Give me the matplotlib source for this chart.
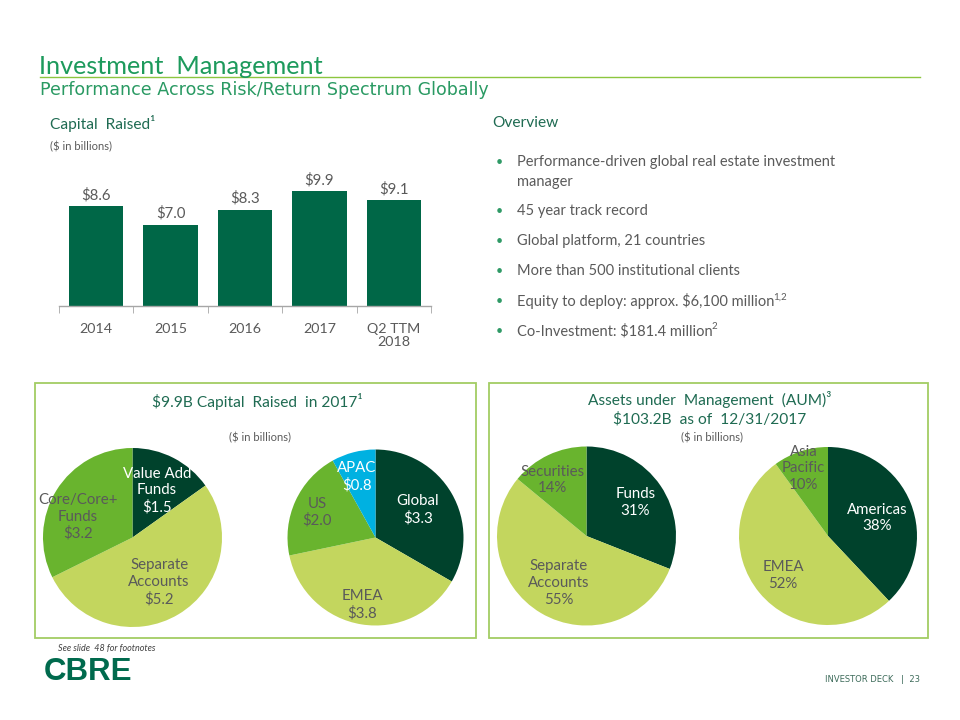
import numpy as np
import matplotlib
matplotlib.use("Agg")
import matplotlib.pyplot as plt
from matplotlib.patches import Rectangle
from matplotlib.lines import Line2D

plt.rcParams['font.family'] = ['Lato', 'DejaVu Sans']

# ---------------- data ----------------
bar_categories = ["2014", "2015", "2016", "2017", "Q2 TTM\n2018"]
bar_values = [8.6, 7.0, 8.3, 9.9, 9.1]

pie1_labels = ["Value Add\nFunds", "Separate\nAccounts", "Core/Core+\nFunds"]
pie1_values = [1.5, 5.2, 3.2]
pie2_labels = ["Global", "EMEA", "US", "APAC"]
pie2_values = [3.3, 3.8, 2.0, 0.8]
pie3_labels = ["Funds", "Separate\nAccounts", "Securities"]
pie3_values = [31, 55, 14]
pie4_labels = ["Americas", "EMEA", "Asia\nPacific"]
pie4_values = [38, 52, 10]

overview_items = [
    "Performance-driven global real estate investment\nmanager",
    "45 year track record",
    "Global platform, 21 countries",
    "More than 500 institutional clients",
    "Equity to deploy: approx. $6,100 million",
    "Co-Investment: $181.4 million",
]
overview_notes = ["", "", "", "", "1,2", "2"]

# ---------------- style ----------------
DARK = "#00422c"
BAR = "#006747"
LIGHT = "#c3d65e"
MED = "#69b42e"
CYAN = "#00b1e1"
GREY = "#5a5a5a"
HEAD = "#1f6b52"
TITLE = "#1d9a5c"
BORDER = "#a2cd63"

W, H = 960, 720
fig = plt.figure(figsize=(W / 100, H / 100), dpi=100)
fig.patch.set_facecolor("white")
renderer = fig.canvas.get_renderer()


def fx(x):
    return x / W


def fy(y):
    return 1 - y / H


def axes_px(x0, y0, x1, y1):
    return fig.add_axes([fx(x0), fy(y1), (x1 - x0) / W, (y1 - y0) / H])


def text_px(x, y, s, **kw):
    return fig.text(fx(x), fy(y), s, **kw)


# ---------------- header ----------------
text_px(39, 66, "Investment  Management", fontsize=18.2, color=TITLE,
        ha="left", va="center")
fig.add_artist(Line2D([fx(40), fx(920)], [fy(76.5), fy(76.5)],
                      color="#8cc63f", lw=1.0))
text_px(40, 90, "Performance Across Risk/Return Spectrum Globally",
        fontsize=12.6, color="#2a9a63", ha="left", va="center",
        family="DejaVu Sans")

# ---------------- capital raised bar chart ----------------
text_px(50, 123, "Capital  Raised¹", fontsize=11.2, color=HEAD,
        ha="left", va="center")
text_px(50, 147, "($ in billions)", fontsize=8, color=GREY,
        ha="left", va="center")

axb = axes_px(59, 160, 431, 306)
xs = np.arange(len(bar_values))
bars = axb.bar(xs, bar_values, width=0.73, color=BAR)
axb.set_xlim(-0.5, len(bar_values) - 0.5)
axb.set_ylim(0, 146 / 11.6)
for rect, v in zip(bars, bar_values):
    axb.annotate(f"${v:.1f}", (rect.get_x() + rect.get_width() / 2, v),
                 xytext=(0, 8), textcoords="offset points",
                 ha="center", va="center", fontsize=10.8, color=GREY)
for sp in ["top", "right", "left"]:
    axb.spines[sp].set_visible(False)
axb.spines["bottom"].set_color("#a6a6a6")
axb.spines["bottom"].set_linewidth(1.0)
axb.set_yticks([])
axb.set_xticks(xs)
axb.set_xticklabels(bar_categories, fontsize=10.3, color=GREY, linespacing=1.15)
axb.tick_params(axis="x", which="major", length=0, pad=12)
axb.set_xticks(np.arange(len(bar_values) + 1) - 0.5, minor=True)
axb.tick_params(axis="x", which="minor", length=5, color="#a6a6a6",
                direction="out")

# ---------------- overview ----------------
text_px(492, 123, "Overview", fontsize=11.2, color=HEAD, ha="left", va="center")
ys = [162, 211, 241, 271, 301, 331]
for y, item, note in zip(ys, overview_items, overview_notes):
    text_px(496, y, "•", fontsize=9, color="#2f9a66", ha="left", va="center")
    if "\n" in item:
        t = text_px(517, y + 10, item, fontsize=10.5, color=GREY, ha="left",
                    va="center", linespacing=1.5)
    else:
        t = text_px(517, y, item, fontsize=10.5, color=GREY, ha="left",
                    va="center")
    if note:
        bb = t.get_window_extent(renderer)
        fig.text((bb.x1 - 1) / W, fy(y - 4), note, fontsize=7, color=GREY,
                 ha="left", va="center")

# ---------------- pie boxes ----------------
for (x0, x1) in [(35, 476), (489, 928)]:
    fig.add_artist(Rectangle((fx(x0), fy(638)), (x1 - x0) / W, (638 - 383) / H,
                             fill=False, ec=BORDER, lw=1.3,
                             transform=fig.transFigure))

text_px(257, 401, "$9.9B Capital  Raised  in 2017¹", fontsize=11.2,
        color=HEAD, ha="center", va="center")
text_px(260, 438, "($ in billions)", fontsize=8, color=GREY,
        ha="center", va="center")
text_px(710, 400, "Assets under  Management  (AUM)³", fontsize=11.2,
        color=HEAD, ha="center", va="center")
text_px(710, 419, "$103.2B  as of  12/31/2017", fontsize=11.2,
        color=HEAD, ha="center", va="center")
text_px(712, 438, "($ in billions)", fontsize=8, color=GREY,
        ha="center", va="center")


def draw_pie(cx, cy, r, values, labels, colors, tcolors, place, fmt):
    ax = axes_px(cx - r, cy - r, cx + r, cy + r)
    wedges, _ = ax.pie(values, colors=colors, startangle=90, counterclock=False,
                       radius=1, wedgeprops=dict(linewidth=0))
    ax.set_xlim(-1, 1)
    ax.set_ylim(-1, 1)
    ax.set_axis_off()
    for w, lab, v, tc, (d, da) in zip(wedges, labels, values, tcolors, place):
        mid = np.deg2rad((w.theta1 + w.theta2) / 2 + da)
        ax.text(d * np.cos(mid), d * np.sin(mid), f"{lab}\n{fmt(v)}",
                ha="center", va="center", fontsize=10.8, color=tc,
                linespacing=1.25)


dollar = lambda v: f"${v:.1f}"
pct = lambda v: f"{v:d}%"

draw_pie(132.5, 537.5, 89.5, pie1_values, pie1_labels, [DARK, LIGHT, MED],
         ["white", GREY, GREY], [(0.59, 0), (0.58, 0), (0.65, 11)], dollar)
draw_pie(375.5, 537.5, 88, pie2_values, pie2_labels, [DARK, LIGHT, MED, CYAN],
         ["white", GREY, GREY, "white"],
         [(0.575, 3), (0.78, -2), (0.72, 1), (0.72, 2.5)], dollar)
draw_pie(586.5, 536, 89.5, pie3_values, pie3_labels, [DARK, LIGHT, MED],
         ["white", GREY, GREY], [(0.66, 0), (0.61, 0), (0.73, 6)], pct)
draw_pie(828, 536, 89, pie4_values, pie4_labels, [DARK, LIGHT, MED],
         ["white", GREY, GREY], [(0.585, -1.5), (0.67, 1.5), (0.81, 2)], pct)

# ---------------- footer ----------------
text_px(58, 649, "See slide  48 for footnotes", fontsize=6.5, style="italic",
        color="#404040", ha="left", va="center")
text_px(44, 672, "CBRE", fontsize=22.5, fontweight="bold", color="#006a4d",
        ha="left", va="center", family="Liberation Sans")
text_px(920, 679, "INVESTOR DECK   |  23", fontsize=6, color="#3d6b5a",
        ha="right", va="center", family="DejaVu Sans")

fig.savefig("out.png", dpi=100, facecolor="white")
